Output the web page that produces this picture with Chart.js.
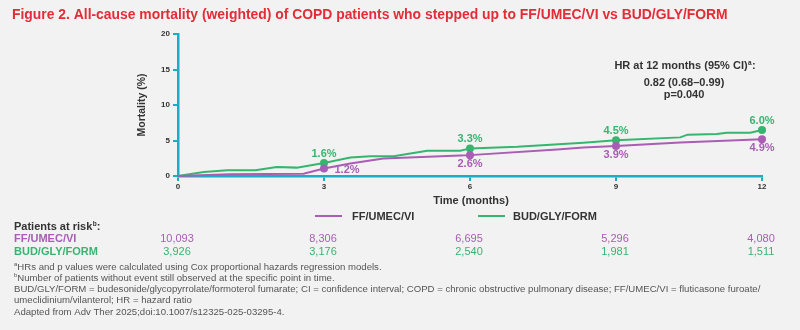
<!DOCTYPE html>
<html>
<head>
<meta charset="utf-8">
<script src="https://cdn.jsdelivr.net/npm/chart.js@4"></script>
<style>
  html, body { margin: 0; padding: 0; background: #f2f2f2; }
  #wrap { width: 800px; height: 330px; position: relative; }
</style>
</head>
<body>
<div id="wrap"><canvas id="chart" width="800" height="330"></canvas></div>
<script>
// FF/UMEC/VI curve (months, mortality %)
const ffMonths = [0, 1.07, 2.58, 3, 3.54, 4.22, 5.8, 6, 7.79, 8.33, 9, 10.32, 12];
const ffValues = [0, 0.24, 0.33, 1.05, 1.75, 2.46, 2.89, 2.94, 3.74, 4.0, 4.21, 4.73, 5.16];
// BUD/GLY/FORM curve
const budMonths = [0, 0.53, 1.01, 1.59, 2.03, 2.44, 3, 3.54, 3.95, 4.43, 5.12, 5.8, 6, 6.97, 8.33, 9, 10.32, 10.47, 11.07, 11.28, 11.76, 12];
const budValues = [0, 0.57, 0.8, 0.8, 1.28, 1.18, 1.84, 2.6, 2.77, 2.77, 3.55, 3.55, 3.89, 4.11, 4.68, 5.02, 5.44, 5.82, 5.91, 6.1, 6.1, 6.48];

const markMonths = [3, 6, 9, 12];
const ffLabels = ["1.2%", "2.6%", "3.9%", "4.9%"];
const budLabels = ["1.6%", "3.3%", "4.5%", "6.0%"];

const riskMonths = [0, 3, 6, 9, 12];
const ffRisk = ["10,093", "8,306", "6,695", "5,296", "4,080"];
const budRisk = ["3,926", "3,176", "2,540", "1,981", "1,511"];

const purple = "#a95db4";
const green = "#36b56f";
const teal = "#1aaec4";
const dark = "#333333";
const FONT = "'Liberation Sans', Arial, sans-serif";

function pts(xs, ys) { return xs.map((x, i) => ({ x: x, y: ys[i] })); }
function markerRadius(ctx) {
  const p = ctx.raw;
  return p && markMonths.includes(p.x) ? 4 : 0;
}

const textPlugin = {
  id: "texts",
  afterDatasetsDraw(chart) {
    const c = chart.ctx;
    const xs = chart.scales.x, ys = chart.scales.y;
    c.save();
    c.textBaseline = "middle";
    // point labels
    c.font = "600 11px " + FONT;
    c.textAlign = "center";
    markMonths.forEach((m, i) => {
      const px = xs.getPixelForValue(m);
      const bi = budMonths.indexOf(m), fi = ffMonths.indexOf(m);
      c.fillStyle = green;
      c.fillText(budLabels[i], px, ys.getPixelForValue(budValues[bi]) - 9);
      c.fillStyle = purple;
      if (i === 0) c.fillText(ffLabels[i], px + 23, ys.getPixelForValue(ffValues[fi]) + 1);
      else c.fillText(ffLabels[i], px, ys.getPixelForValue(ffValues[fi]) + 8.5);
    });
    c.restore();
  },
  afterDraw(chart) {
    const c = chart.ctx;
    const xs = chart.scales.x;
    c.save();
    c.textBaseline = "middle";
    // title
    c.fillStyle = "#e52b37";
    c.font = "bold 13.9px " + FONT;
    c.textAlign = "left";
    c.fillText("Figure 2. All-cause mortality (weighted) of COPD patients who stepped up to FF/UMEC/VI vs BUD/GLY/FORM", 12, 15);
    // HR annotation
    c.fillStyle = dark;
    c.textAlign = "center";
    c.font = "bold 11px " + FONT;
    c.fillText("HR at 12 months (95% CI)", 681, 66);
    const w = c.measureText("HR at 12 months (95% CI)").width;
    c.font = "bold 6.5px " + FONT;
    c.textAlign = "left";
    c.fillText("a", 681 + w / 2 + 0.5, 63);
    c.font = "bold 11px " + FONT;
    c.fillText(":", 681 + w / 2 + 4.5, 66);
    c.textAlign = "center";
    c.fillText("0.82 (0.68\u20130.99)", 684, 82.5);
    c.fillText("p=0.040", 684, 95);
    // x title
    c.fillText("Time (months)", 471, 201);
    // legend
    c.lineWidth = 2;
    c.strokeStyle = purple;
    c.beginPath(); c.moveTo(315, 216); c.lineTo(342, 216); c.stroke();
    c.strokeStyle = green;
    c.beginPath(); c.moveTo(478, 216); c.lineTo(505, 216); c.stroke();
    c.textAlign = "left";
    c.fillStyle = dark;
    c.font = "bold 11px " + FONT;
    c.fillText("FF/UMEC/VI", 352, 216.5);
    c.fillText("BUD/GLY/FORM", 513, 216.5);
    // patients at risk
    c.fillText("Patients at risk", 14, 227);
    let pw = c.measureText("Patients at risk").width;
    c.font = "bold 6.5px " + FONT;
    c.fillText("b", 14 + pw + 0.5, 224);
    c.font = "bold 11px " + FONT;
    c.fillText(":", 14 + pw + 4.5, 227);
    c.fillStyle = purple;
    c.fillText("FF/UMEC/VI", 14, 239);
    c.fillStyle = green;
    c.fillText("BUD/GLY/FORM", 14, 251.5);
    c.textAlign = "center";
    c.font = "500 11px " + FONT;
    riskMonths.forEach((m, i) => {
      const px = xs.getPixelForValue(m);
      c.fillStyle = purple;
      c.fillText(ffRisk[i], px - 1, 239);
      c.fillStyle = green;
      c.fillText(budRisk[i], px - 1, 251.5);
    });
    // footnotes
    c.fillStyle = "#555555";
    c.textAlign = "left";
    const notes = [
      ["a", "HRs and p values were calculated using Cox proportional hazards regression models."],
      ["b", "Number of patients without event still observed at the specific point in time."],
      ["", "BUD/GLY/FORM = budesonide/glycopyrrolate/formoterol fumarate; CI = confidence interval; COPD = chronic obstructive pulmonary disease; FF/UMEC/VI = fluticasone furoate/"],
      ["", "umeclidinium/vilanterol; HR = hazard ratio"],
      ["", "Adapted from Adv Ther 2025;doi:10.1007/s12325-025-03295-4."]
    ];
    const ny = [267, 278.5, 289.5, 300.5, 312];
    notes.forEach((n, i) => {
      let x = 14;
      if (n[0]) {
        c.font = "6px " + FONT;
        c.fillText(n[0], x, ny[i] - 3);
        x += c.measureText(n[0]).width;
      }
      c.font = "9.6px " + FONT;
      c.fillText(n[1], x, ny[i]);
    });
    c.restore();
  }
};

new Chart(document.getElementById("chart"), {
  type: "line",
  data: {
    datasets: [
      {
        label: "FF/UMEC/VI",
        data: pts(ffMonths, ffValues),
        borderColor: purple,
        backgroundColor: purple,
        borderWidth: 2,
        pointRadius: markerRadius,
        pointBorderWidth: 0,
        tension: 0,
        clip: false
      },
      {
        label: "BUD/GLY/FORM",
        data: pts(budMonths, budValues),
        borderColor: green,
        backgroundColor: green,
        borderWidth: 2,
        pointRadius: markerRadius,
        pointBorderWidth: 0,
        tension: 0,
        clip: false
      }
    ]
  },
  options: {
    responsive: false,
    animation: false,
    events: [],
    layout: { padding: { left: 130, right: 38, top: 34, bottom: 134 } },
    plugins: { legend: { display: false }, tooltip: { enabled: false } },
    scales: {
      x: {
        type: "linear",
        min: 0, max: 12,
        ticks: { stepSize: 3, color: dark, font: { family: FONT, size: 8, weight: "bold" }, padding: 1 },
        grid: { drawOnChartArea: false, color: teal, tickLength: 5, lineWidth: 2 },
        border: { color: teal, width: 2.5 },
        afterFit(s) { s.height = 20; }
      },
      y: {
        min: 0, max: 20,
        ticks: { stepSize: 5, color: dark, font: { family: FONT, size: 8, weight: "bold" }, padding: 3 },
        grid: { drawOnChartArea: false, color: teal, tickLength: 5, lineWidth: 2 },
        border: { color: teal, width: 2.5 },
        title: { display: true, text: "Mortality (%)", color: dark, font: { family: FONT, size: 10.5, weight: "bold" }, padding: { top: 6, bottom: 5 } },
        afterFit(s) { s.width = 48; }
      }
    }
  },
  plugins: [textPlugin]
});
</script>
</body>
</html>
